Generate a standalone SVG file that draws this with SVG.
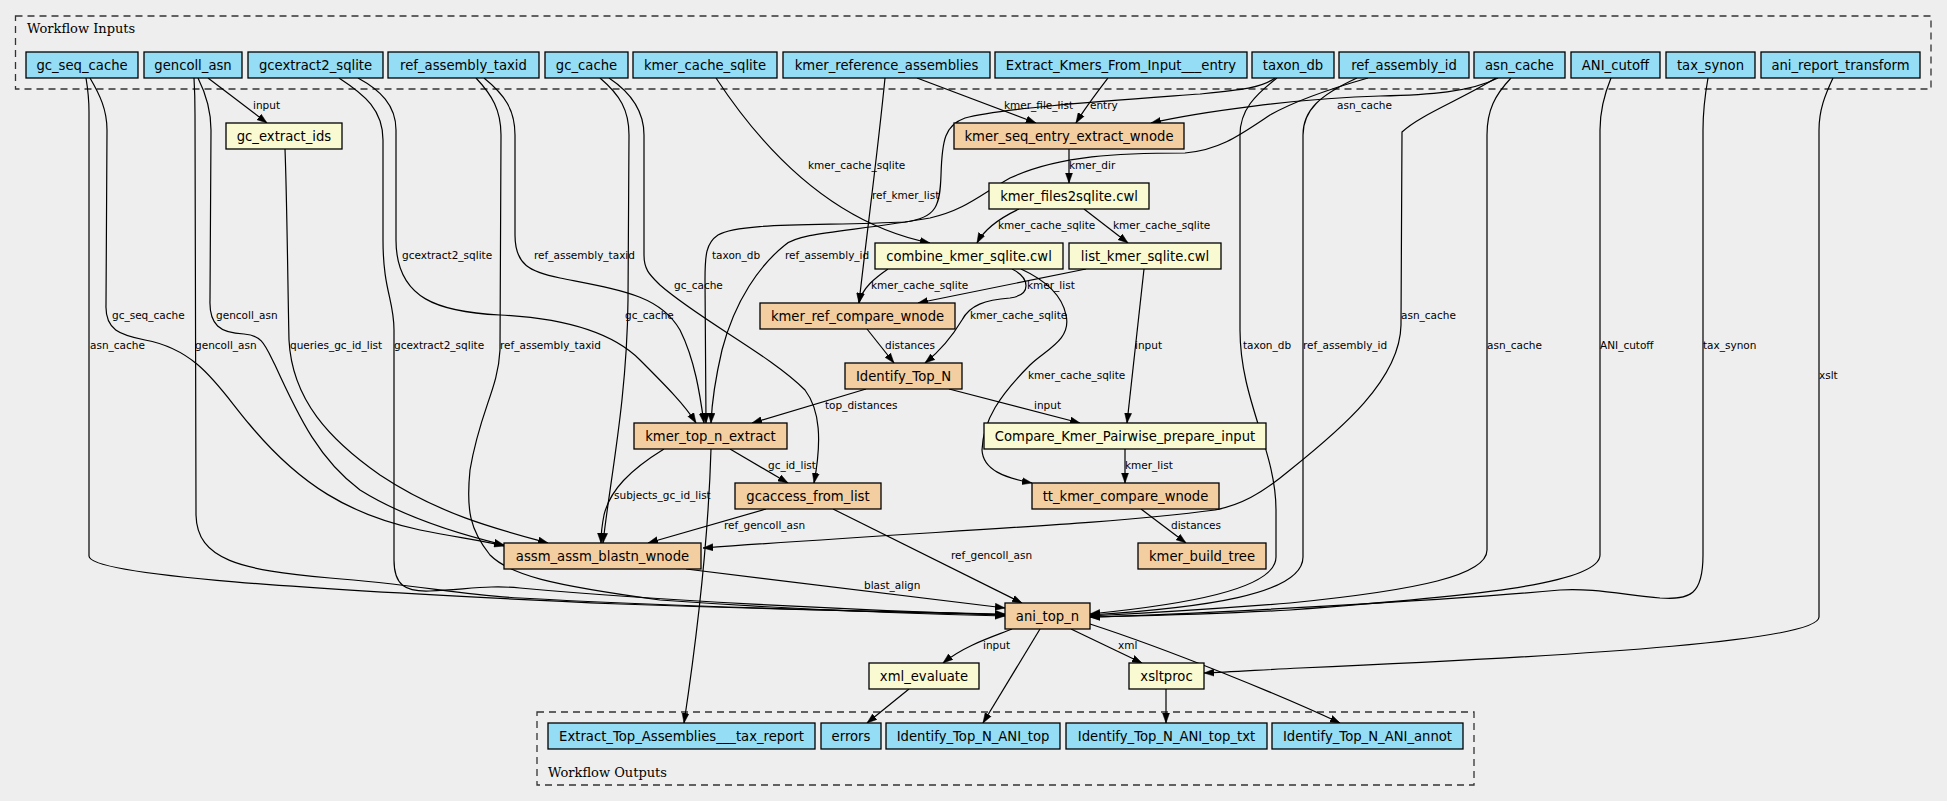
<svg xmlns="http://www.w3.org/2000/svg" width="1947" height="801" viewBox="0 0 1947 801">
<style>
.bg{fill:#eeeeee}
.cl{fill:none;stroke:#333;stroke-width:1.3;stroke-dasharray:7,5}
.ct{font-family:"DejaVu Serif","Liberation Serif",serif;font-size:13px;fill:#000}
.n rect{stroke:#000;stroke-width:1.3}
.io rect{fill:#94ddf4}
.st rect{fill:#f3cea1}
.tl rect{fill:#fafad2}
.n text{font-family:"DejaVu Sans","Liberation Sans",sans-serif;font-size:13.2px;text-anchor:middle;fill:#000}
.e path{fill:none;stroke:#000;stroke-width:1.2;marker-end:url(#ah)}
.e text{font-family:"DejaVu Sans","Liberation Sans",sans-serif;font-size:10.5px;fill:#000}
</style>
<defs>
<marker id="ah" markerUnits="userSpaceOnUse" markerWidth="10" markerHeight="8" refX="10" refY="4" orient="auto" viewBox="0 0 10 8">
<path d="M0,0.5 L10,4 L0,7.5 z" fill="#000" stroke="#000" stroke-width="0.5"/>
</marker>
</defs>
<rect class="bg" x="0" y="0" width="1947" height="801"/>
<g id="cluster_inputs">
<rect class="cl" x="15.5" y="16" width="1915.5" height="73"/>
<text class="ct" x="27" y="33">Workflow Inputs</text>
</g>
<g id="cluster_outputs">
<rect class="cl" x="537" y="712" width="937" height="73"/>
<text class="ct" x="548" y="777">Workflow Outputs</text>
</g>
<g id="edges" class="e">
<g id="e_gc_seq_cache_ani"><path d="M86,78 C88,90 89,100 89,112 L89,556 C89,575 300,590 620,604 C800,610 940,613 1005,614"/><text x="90" y="349">asn_cache</text></g>
<g id="e_gc_seq_cache_assm"><path d="M90,78 C100,95 107,110 107,130 L106,305 C105,330 120,335 145,340 C200,350 220,390 250,425 C300,485 350,515 420,530 C460,538 480,540 504,546"/><text x="112" y="319">gc_seq_cache</text></g>
<g id="e_gencoll_ani"><path d="M194,78 C195,95 195,105 195,115 L196,515 C197,560 240,570 330,578 C420,585 460,595 520,598 C700,608 900,612 1005,615"/><text x="195" y="349">gencoll_asn</text></g>
<g id="e_gencoll_assm"><path d="M198,78 C205,92 211,110 211,130 L210,300 C209,325 220,333 244,334 C262,335 265,345 275,365 C300,420 320,460 360,490 C400,515 450,532 504,545"/><text x="216" y="319">gencoll_asn</text></g>
<g id="e_gencoll_gcextract"><path d="M208,78 L267,123"/><text x="253" y="109">input</text></g>
<g id="e_gcextractids_assm"><path d="M285,149 C287,200 288,300 289,340 C292,400 330,440 380,475 C440,515 500,530 548,543"/><text x="290" y="349">queries_gc_id_list</text></g>
<g id="e_gcextract2_ani"><path d="M339,78 C365,95 383,110 383,140 L383,240 C383,290 394,300 394,330 L394,560 C394,585 405,592 430,591 C470,589 490,585 520,588 C650,600 850,610 1005,615"/><text x="394" y="349">gcextract2_sqlite</text></g>
<g id="e_gcextract2_topn"><path d="M358,78 C380,90 396,105 396,130 L396,240 C396,300 440,312 500,315 C560,318 610,330 640,360 C665,385 685,405 696,423"/><text x="402" y="259">gcextract2_sqlite</text></g>
<g id="e_taxid_topn"><path d="M484,78 C505,95 515,110 515,135 L515,235 C515,265 530,272 560,278 C620,290 660,295 680,330 C695,360 700,395 704,423"/><text x="534" y="259">ref_assembly_taxid</text></g>
<g id="e_taxid_ani"><path d="M476,78 C492,95 501,110 501,135 L500,350 C498,390 480,410 470,470 C466,510 470,530 490,555 C510,575 550,585 660,600 C800,610 920,614 1005,616"/><text x="500" y="349">ref_assembly_taxid</text></g>
<g id="e_gccache_assm"><path d="M600,78 C620,95 629,110 629,135 L628,300 C627,400 610,480 603,543"/><text x="625" y="319">gc_cache</text></g>
<g id="e_gccache_gcaccess"><path d="M609,78 C630,92 644,110 644,135 L644,255 C644,270 650,275 660,285 C700,320 770,355 805,390 C820,410 822,440 814,483"/><text x="674" y="289">gc_cache</text></g>
<g id="e_kmercache_combine"><path d="M716,78 C770,160 840,225 930,243"/><text x="808" y="169">kmer_cache_sqlite</text></g>
<g id="e_kmerref_seqentry"><path d="M917,78 L1036,123"/><text x="1004" y="109">kmer_file_list</text></g>
<g id="e_kmerref_refcompare"><path d="M885,78 C878,150 866,240 859,303"/><text x="872" y="199">ref_kmer_list</text></g>
<g id="e_entry_seqentry"><path d="M1108,78 C1095,95 1085,108 1076,123"/><text x="1090" y="109">entry</text></g>
<g id="e_asn_seqentry"><path d="M1498,78 C1470,92 1430,95 1380,96 C1300,98 1200,112 1151,123"/><text x="1337" y="109">asn_cache</text></g>
<g id="e_taxondb_topn"><path d="M1275,78 C1262,88 1240,90 1200,94 C1120,100 1000,108 965,118 C945,125 942,140 941,175 C940,205 937,218 905,222 C820,226 740,222 718,235 C706,243 705,255 705,280 L706,423"/><text x="712" y="259">taxon_db</text></g>
<g id="e_refid_topn"><path d="M1368,78 C1340,86 1300,98 1270,115 C1240,135 1220,150 1185,153 C1120,153 1060,155 1010,178 C980,195 965,210 930,218 C850,232 800,232 785,245 C760,265 735,300 722,350 C715,380 712,400 711,423"/><text x="785" y="259">ref_assembly_id</text></g>
<g id="e_taxondb_ani"><path d="M1277,78 C1255,95 1240,110 1240,135 L1240,330 C1240,400 1276,450 1276,510 L1276,557 C1276,590 1180,605 1090,614"/><text x="1243" y="349">taxon_db</text></g>
<g id="e_refid_ani"><path d="M1357,78 C1320,95 1303,110 1303,135 L1303,557 C1303,595 1200,608 1090,615"/><text x="1303" y="349">ref_assembly_id</text></g>
<g id="e_asn_assm"><path d="M1496,78 C1460,100 1420,115 1402,132 L1401,325 C1400,380 1340,430 1290,470 C1260,495 1240,505 1215,510 C1100,525 950,530 703,548"/><text x="1401" y="319">asn_cache</text></g>
<g id="e_asn_ani"><path d="M1511,78 C1495,95 1487,110 1487,135 L1487,550 C1487,575 1420,590 1290,603 C1200,610 1130,614 1090,616"/><text x="1487" y="349">asn_cache</text></g>
<g id="e_cutoff_ani"><path d="M1611,78 C1604,95 1600,110 1600,130 L1600,555 C1600,585 1460,597 1290,610 C1200,615 1130,616 1090,617"/><text x="1600" y="349">ANI_cutoff</text></g>
<g id="e_taxsynon_ani"><path d="M1708,78 C1705,95 1703,110 1703,130 L1703,555 C1703,595 1690,600 1660,598 C1620,594 1590,588 1560,590 C1450,600 1200,614 1090,617"/><text x="1703" y="349">tax_synon</text></g>
<g id="e_transform_xslt"><path d="M1833,78 C1825,95 1819,110 1819,130 L1819,617 C1819,640 1600,655 1300,668 C1260,670 1230,672 1204,673"/><text x="1819" y="379">xslt</text></g>
<g id="e_seqentry_files2sqlite"><path d="M1069,149 L1069,183"/><text x="1069" y="169">kmer_dir</text></g>
<g id="e_files2sqlite_combine"><path d="M1019,209 C1000,218 985,228 977,243"/><text x="998" y="229">kmer_cache_sqlite</text></g>
<g id="e_files2sqlite_list"><path d="M1084,209 L1128,243"/><text x="1113" y="229">kmer_cache_sqlite</text></g>
<g id="e_combine_refcompare"><path d="M888,269 C875,278 862,288 859,303"/><text x="871" y="289">kmer_cache_sqlite</text></g>
<g id="e_list_refcompare"><path d="M1086,269 L918,303"/><text x="1027" y="289">kmer_list</text></g>
<g id="e_combine_identify"><path d="M1012,269 C1030,278 1032,295 1010,298 C985,300 970,305 962,320 C950,340 935,355 925,363"/><text x="970" y="319">kmer_cache_sqlite</text></g>
<g id="e_combine_tt"><path d="M1021,269 C1045,280 1062,295 1066,315 C1072,340 1045,350 1030,365 C1000,395 983,420 982,450 C983,470 1005,478 1032,483"/><text x="1028" y="379">kmer_cache_sqlite</text></g>
<g id="e_list_compare"><path d="M1144,269 L1127,423"/><text x="1135" y="349">input</text></g>
<g id="e_refcompare_identify"><path d="M867,329 L894,363"/><text x="885" y="349">distances</text></g>
<g id="e_identify_topn"><path d="M866,389 L752,423"/><text x="825" y="409">top_distances</text></g>
<g id="e_identify_compare"><path d="M949,389 L1080,423"/><text x="1034" y="409">input</text></g>
<g id="e_compare_tt"><path d="M1125,449 L1125,483"/><text x="1125" y="469">kmer_list</text></g>
<g id="e_tt_buildtree"><path d="M1141,509 L1186,543"/><text x="1171" y="529">distances</text></g>
<g id="e_topn_gcaccess"><path d="M730,449 L788,483"/><text x="768" y="469">gc_id_list</text></g>
<g id="e_topn_assm"><path d="M664,449 C630,470 610,490 604,515 C602,525 601,535 601,543"/><text x="614" y="499">subjects_gc_id_list</text></g>
<g id="e_topn_taxreport"><path d="M711,449 C708,550 695,650 684,723"/></g>
<g id="e_gcaccess_assm"><path d="M766,509 L648,543"/><text x="724" y="529">ref_gencoll_asn</text></g>
<g id="e_gcaccess_ani"><path d="M833,509 L1022,603"/><text x="951" y="559">ref_gencoll_asn</text></g>
<g id="e_assm_ani"><path d="M686,569 L1005,608"/><text x="864" y="589">blast_align</text></g>
<g id="e_ani_xmleval"><path d="M1012,629 C995,636 965,645 943,663"/><text x="983" y="649">input</text></g>
<g id="e_ani_top"><path d="M1040,629 L983,723"/></g>
<g id="e_ani_xsltproc"><path d="M1071,629 L1142,663"/><text x="1118" y="649">xml</text></g>
<g id="e_ani_annot"><path d="M1090,624 C1170,650 1280,695 1340,723"/></g>
<g id="e_xmleval_errors"><path d="M909,689 L867,723"/></g>
<g id="e_xsltproc_toptxt"><path d="M1166,689 L1166,723"/></g>
</g>
<g id="n_gc_seq_cache" class="n io"><rect x="26" y="52" width="112" height="26"/><text x="82" y="69.5">gc_seq_cache</text></g>
<g id="n_gencoll_asn" class="n io"><rect x="144" y="52" width="98" height="26"/><text x="193" y="69.5">gencoll_asn</text></g>
<g id="n_gcextract2_sqlite" class="n io"><rect x="248" y="52" width="135" height="26"/><text x="315.5" y="69.5">gcextract2_sqlite</text></g>
<g id="n_ref_assembly_taxid" class="n io"><rect x="388" y="52" width="151" height="26"/><text x="463.5" y="69.5">ref_assembly_taxid</text></g>
<g id="n_gc_cache" class="n io"><rect x="545" y="52" width="83" height="26"/><text x="586.5" y="69.5">gc_cache</text></g>
<g id="n_kmer_cache_sqlite" class="n io"><rect x="633" y="52" width="144" height="26"/><text x="705" y="69.5">kmer_cache_sqlite</text></g>
<g id="n_kmer_reference_assemblies" class="n io"><rect x="783" y="52" width="207" height="26"/><text x="886.5" y="69.5">kmer_reference_assemblies</text></g>
<g id="n_extract_kmers_entry" class="n io"><rect x="995" y="52" width="252" height="26"/><text x="1121" y="69.5">Extract_Kmers_From_Input___entry</text></g>
<g id="n_taxon_db" class="n io"><rect x="1252" y="52" width="82" height="26"/><text x="1293" y="69.5">taxon_db</text></g>
<g id="n_ref_assembly_id" class="n io"><rect x="1339" y="52" width="130" height="26"/><text x="1404" y="69.5">ref_assembly_id</text></g>
<g id="n_asn_cache" class="n io"><rect x="1474" y="52" width="91" height="26"/><text x="1519.5" y="69.5">asn_cache</text></g>
<g id="n_ani_cutoff" class="n io"><rect x="1571" y="52" width="89" height="26"/><text x="1615.5" y="69.5">ANI_cutoff</text></g>
<g id="n_tax_synon" class="n io"><rect x="1666" y="52" width="89" height="26"/><text x="1710.5" y="69.5">tax_synon</text></g>
<g id="n_ani_report_transform" class="n io"><rect x="1761" y="52" width="159" height="26"/><text x="1840.5" y="69.5">ani_report_transform</text></g>
<g id="n_gc_extract_ids" class="n tl"><rect x="226" y="123" width="116" height="26"/><text x="284" y="140.5">gc_extract_ids</text></g>
<g id="n_kmer_seq_entry_extract_wnode" class="n st"><rect x="954" y="123" width="230" height="26"/><text x="1069" y="140.5">kmer_seq_entry_extract_wnode</text></g>
<g id="n_kmer_files2sqlite" class="n tl"><rect x="989" y="183" width="160" height="26"/><text x="1069" y="200.5">kmer_files2sqlite.cwl</text></g>
<g id="n_combine_kmer_sqlite" class="n tl"><rect x="875" y="243" width="188" height="26"/><text x="969" y="260.5">combine_kmer_sqlite.cwl</text></g>
<g id="n_list_kmer_sqlite" class="n tl"><rect x="1069" y="243" width="152" height="26"/><text x="1145" y="260.5">list_kmer_sqlite.cwl</text></g>
<g id="n_kmer_ref_compare_wnode" class="n st"><rect x="760" y="303" width="195" height="26"/><text x="857.5" y="320.5">kmer_ref_compare_wnode</text></g>
<g id="n_identify_top_n" class="n st"><rect x="845" y="363" width="117" height="26"/><text x="903.5" y="380.5">Identify_Top_N</text></g>
<g id="n_kmer_top_n_extract" class="n st"><rect x="634" y="423" width="153" height="26"/><text x="710.5" y="440.5">kmer_top_n_extract</text></g>
<g id="n_compare_kmer_pairwise" class="n tl"><rect x="984" y="423" width="282" height="26"/><text x="1125" y="440.5">Compare_Kmer_Pairwise_prepare_input</text></g>
<g id="n_gcaccess_from_list" class="n st"><rect x="735" y="483" width="146" height="26"/><text x="808" y="500.5">gcaccess_from_list</text></g>
<g id="n_tt_kmer_compare_wnode" class="n st"><rect x="1032" y="483" width="187" height="26"/><text x="1125.5" y="500.5">tt_kmer_compare_wnode</text></g>
<g id="n_assm_assm_blastn_wnode" class="n st"><rect x="504" y="543" width="197" height="26"/><text x="602.5" y="560.5">assm_assm_blastn_wnode</text></g>
<g id="n_kmer_build_tree" class="n st"><rect x="1138" y="543" width="128" height="26"/><text x="1202" y="560.5">kmer_build_tree</text></g>
<g id="n_ani_top_n" class="n st"><rect x="1005" y="603" width="85" height="26"/><text x="1047.5" y="620.5">ani_top_n</text></g>
<g id="n_xml_evaluate" class="n tl"><rect x="869" y="663" width="110" height="26"/><text x="924" y="680.5">xml_evaluate</text></g>
<g id="n_xsltproc" class="n tl"><rect x="1129" y="663" width="75" height="26"/><text x="1166.5" y="680.5">xsltproc</text></g>
<g id="n_extract_top_tax_report" class="n io"><rect x="548" y="723" width="267" height="26"/><text x="681.5" y="740.5">Extract_Top_Assemblies___tax_report</text></g>
<g id="n_errors" class="n io"><rect x="821" y="723" width="60" height="26"/><text x="851" y="740.5">errors</text></g>
<g id="n_identify_top_n_ani_top" class="n io"><rect x="886" y="723" width="174" height="26"/><text x="973" y="740.5">Identify_Top_N_ANI_top</text></g>
<g id="n_identify_top_n_ani_top_txt" class="n io"><rect x="1066" y="723" width="201" height="26"/><text x="1166.5" y="740.5">Identify_Top_N_ANI_top_txt</text></g>
<g id="n_identify_top_n_ani_annot" class="n io"><rect x="1272" y="723" width="191" height="26"/><text x="1367.5" y="740.5">Identify_Top_N_ANI_annot</text></g>
</svg>
